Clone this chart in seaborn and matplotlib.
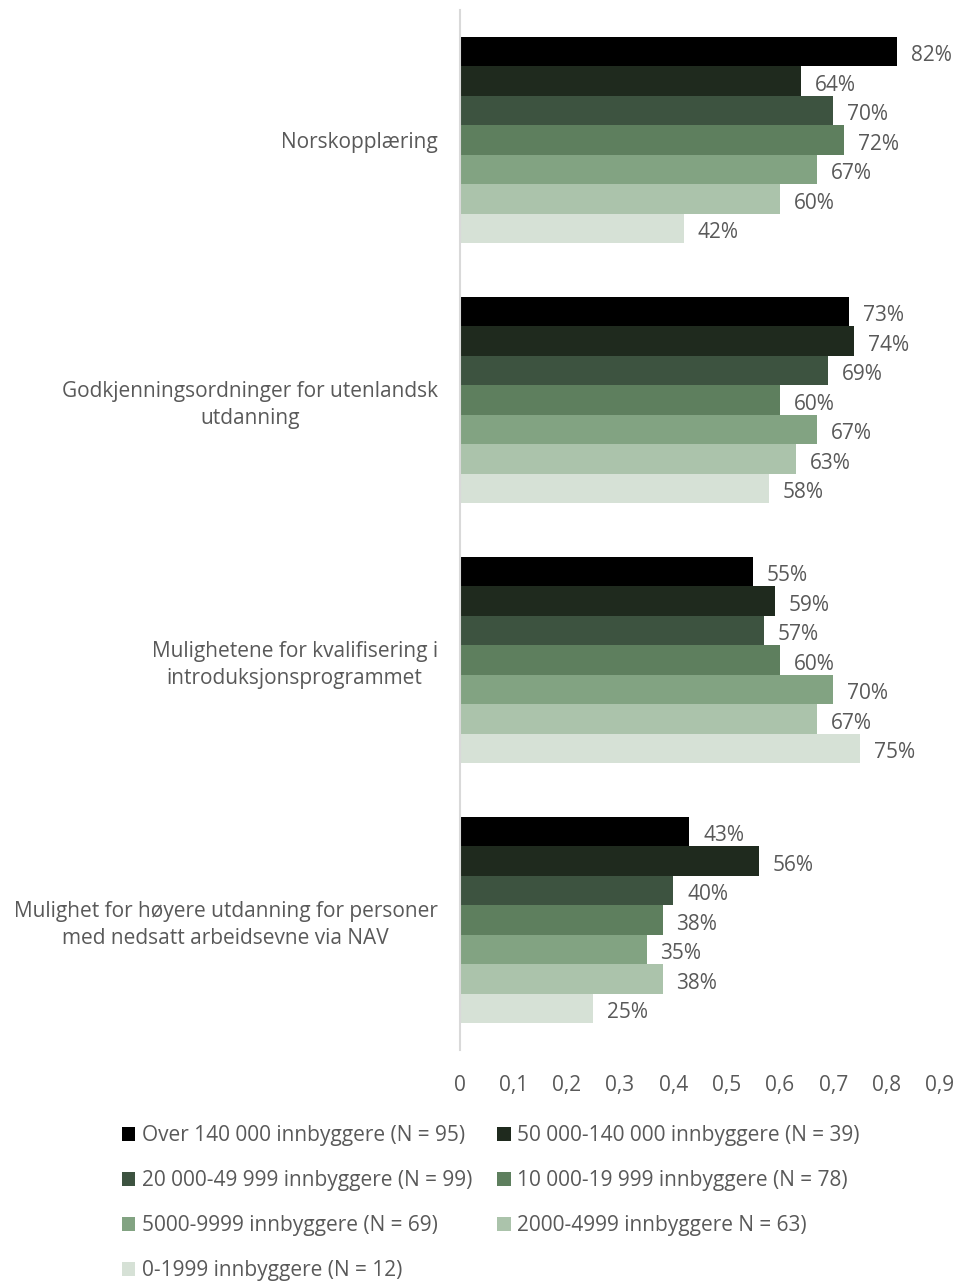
import numpy as np
import pandas as pd
import matplotlib.pyplot as plt
import seaborn as sns

categories = ["Norskopplæring",
              "Godkjenningsordninger for utenlandsk\nutdanning",
              "Mulighetene for kvalifisering i\nintroduksjonsprogrammet",
              "Mulighet for høyere utdanning for personer\nmed nedsatt arbeidsevne via NAV"]
groups = ["Over 140 000 innbyggere (N = 95)",
          "50 000-140 000 innbyggere (N = 39)",
          "20 000-49 999 innbyggere (N = 99)",
          "10 000-19 999 innbyggere (N = 78)",
          "5000-9999 innbyggere (N = 69)",
          "2000-4999 innbyggere N = 63)",
          "0-1999 innbyggere (N = 12)"]
over_140k = [0.82, 0.73, 0.55, 0.43]
k50_140 = [0.64, 0.74, 0.59, 0.56]
k20_49 = [0.70, 0.69, 0.57, 0.40]
k10_19 = [0.72, 0.60, 0.60, 0.38]
k5_10 = [0.67, 0.67, 0.70, 0.35]
k2_5 = [0.60, 0.63, 0.67, 0.38]
k0_2 = [0.42, 0.58, 0.75, 0.25]
xticks = [0, 0.1, 0.2, 0.3, 0.4, 0.5, 0.6, 0.7, 0.8, 0.9]

colors = ["#000000", "#1f2a1e", "#3d5340", "#5e7f5e", "#82a382", "#abc3ab", "#d6e1d6"]

series = [over_140k, k50_140, k20_49, k10_19, k5_10, k2_5, k0_2]
rows = []
for g, vals in zip(groups, series):
    for c, v in zip(categories, vals):
        rows.append({"Kategori": c, "Gruppe": g, "Andel": v})
df = pd.DataFrame(rows)

sns.set_style("white")
plt.rcParams['font.family'] = ['Open Sans', 'DejaVu Sans']
grey = "#595959"
fs = 15

fig = plt.figure(figsize=(9.57, 12.82), dpi=100)
ax = fig.add_axes([0.4807, 0.181, 0.982 - 0.4807, 0.9922 - 0.181])
sns.barplot(data=df, y="Kategori", x="Andel", hue="Gruppe", palette=colors,
            orient="h", width=0.794, gap=0, saturation=1, ax=ax, legend=True,
            edgecolor="none")

# percent labels, nudged a bit below bar centre like the original
for cont in ax.containers:
    texts = ax.bar_label(cont, labels=[f"{v*100:.0f}%" for v in cont.datavalues],
                         padding=10, fontsize=fs, color=grey)
    for t in texts:
        x_off, y_off = t.xyann
        t.xyann = (x_off, y_off - 3)

ax.set_xlim(0, 0.9)
ax.set_xticks(xticks)
ax.set_xticklabels([("%g" % t).replace(".", ",") for t in xticks], fontsize=fs, color=grey)
ax.tick_params(axis="x", length=0, pad=18)
ax.tick_params(axis="y", length=0, pad=16)
for lab in ax.get_yticklabels():
    lab.set_fontsize(fs)
    lab.set_color(grey)
    lab.set_multialignment("center")
    lab.set_linespacing(1.35)
ax.set_xlabel("")
ax.set_ylabel("")
for s in ["top", "right", "bottom"]:
    ax.spines[s].set_visible(False)
ax.spines["left"].set_color("#d9d9d9")
ax.spines["left"].set_linewidth(1.5)

handles, labels = ax.get_legend_handles_labels()
ax.get_legend().remove()
order = [0, 2, 4, 6, 1, 3, 5]
fig.legend([handles[i] for i in order], [labels[i] for i in order],
           loc="upper left", bbox_to_anchor=(0.1187, 0.1287), ncol=2, frameon=False,
           fontsize=fs, labelcolor=grey, handlelength=0.65, handleheight=0.65,
           handletextpad=0.3, columnspacing=1.2, labelspacing=1.15, borderaxespad=0)

fig.savefig("out.png", dpi=100)
